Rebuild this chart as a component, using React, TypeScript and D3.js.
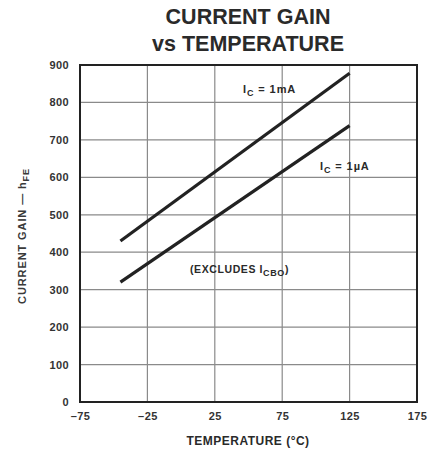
import React, {useEffect, useRef} from 'react';
import * as d3 from 'd3';

// values
const temps = [-45, 125];
const gain1mA = [430, 878];
const gain1uA = [320, 738];
const xTicks = [-75, -25, 25, 75, 125, 175];
const yTicks = [0, 100, 200, 300, 400, 500, 600, 700, 800, 900];

const W = 439;
const H = 450;
const FONT = "'Liberation Sans', Arial, sans-serif";

export default function App() {
  const ref = useRef<SVGGElement>(null);

  useEffect(() => {
    const svg = d3.select(ref.current);
    svg.selectAll('*').remove();

    const x = d3.scaleLinear().domain([-75, 175]).range([80, 417]);
    const y = d3.scaleLinear().domain([0, 900]).range([402, 65]);

    // grid
    const grid = svg.append('g').attr('stroke', '#8a8a8a').attr('stroke-width', 1.2);
    grid.selectAll('line.v')
      .data(xTicks.slice(1, -1))
      .join('line')
      .attr('x1', d => x(d)).attr('x2', d => x(d))
      .attr('y1', y(0)).attr('y2', y(900));
    grid.selectAll('line.h')
      .data(yTicks.slice(1, -1))
      .join('line')
      .attr('x1', x(-75)).attr('x2', x(175))
      .attr('y1', d => y(d)).attr('y2', d => y(d));

    // axes (labels only, frame drawn separately)
    const xAxis = d3.axisBottom(x).tickValues(xTicks).tickSize(0).tickPadding(10)
      .tickFormat(d => String(d).replace('-', '\u2013'));
    const yAxis = d3.axisLeft(y).tickValues(yTicks).tickSize(0).tickPadding(11);

    const gx = svg.append('g').attr('transform', `translate(0,${y(0)})`).call(xAxis);
    const gy = svg.append('g').attr('transform', `translate(${x(-75)},0)`).call(yAxis);
    [gx, gy].forEach(g => {
      g.select('.domain').remove();
      g.selectAll('text')
        .attr('font-family', FONT)
        .attr('font-size', 11)
        .attr('font-weight', 'bold')
        .attr('letter-spacing', 0.4)
        .attr('fill', '#333');
    });

    // frame
    svg.append('rect')
      .attr('x', x(-75)).attr('y', y(900))
      .attr('width', x(175) - x(-75)).attr('height', y(0) - y(900))
      .attr('fill', 'none').attr('stroke', '#222').attr('stroke-width', 2);

    // curves
    const line = d3.line<[number, number]>().x(d => x(d[0])).y(d => y(d[1]));
    [gain1mA, gain1uA].forEach(s => {
      svg.append('path')
        .datum(temps.map((t, i) => [t, s[i]] as [number, number]))
        .attr('fill', 'none')
        .attr('stroke', '#222')
        .attr('stroke-width', 3.2)
        .attr('d', line);
    });
  }, []);

  const lbl = {fontFamily: FONT, fontWeight: 'bold' as const, fill: '#2a2a2a'};

  return (
    <svg width={W} height={H} style={{position: 'absolute', left: 0, top: 0, background: '#fff'}}>
      <text x={248} y={24} textAnchor="middle" fontSize={21.5} {...lbl}>CURRENT GAIN</text>
      <text x={248} y={51} textAnchor="middle" fontSize={21.5} {...lbl}>vs TEMPERATURE</text>
      <g ref={ref} />
      <text x={248} y={445} textAnchor="middle" fontSize={12} letterSpacing={0.5} {...lbl}>
        TEMPERATURE (°C)
      </text>
      <text transform="translate(26,236) rotate(-90)" textAnchor="middle" fontSize={11}
        fontFamily={FONT} fontWeight="bold" fill="#3a3a3a" letterSpacing={0.9}>
        CURRENT GAIN — h<tspan fontSize={9} dy={3}>FE</tspan>
      </text>
      <text x={243} y={93} fontSize={11} letterSpacing={0.9} {...lbl}>
        I<tspan fontSize={9} dy={3}>C</tspan><tspan dy={-3}> = 1mA</tspan>
      </text>
      <text x={320} y={170} fontSize={11} letterSpacing={0.9} {...lbl}>
        I<tspan fontSize={9} dy={3}>C</tspan><tspan dy={-3}> = 1µA</tspan>
      </text>
      <text x={190} y={273} fontSize={10.5} letterSpacing={0.6} {...lbl}>
        (EXCLUDES I<tspan fontSize={9} dy={3}>CBO</tspan><tspan dy={-3}>)</tspan>
      </text>
    </svg>
  );
}
